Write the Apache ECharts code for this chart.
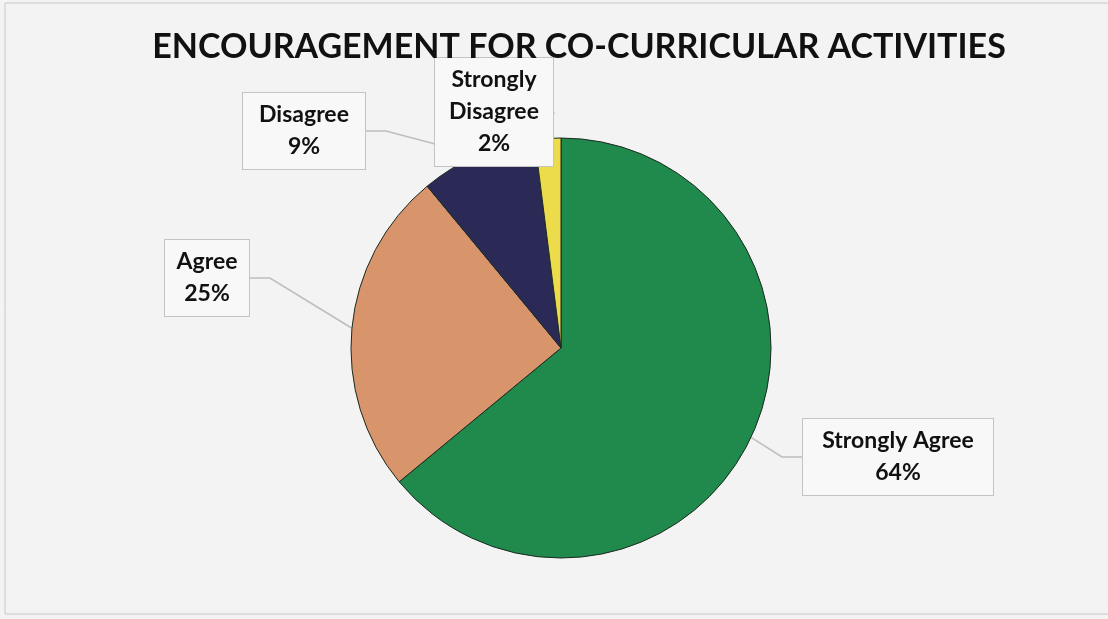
<!DOCTYPE html>
<html>
<head>
<meta charset="utf-8">
<script src="https://cdn.jsdelivr.net/npm/echarts@6/dist/echarts.min.js"></script>
<style>
html,body{margin:0;padding:0;background:#f3f3f3;}
#chart{width:1108px;height:619px;}
</style>
</head>
<body>
<div id="chart"></div>
<script>
const titleText = 'ENCOURAGEMENT FOR CO-CURRICULAR ACTIVITIES';
const categories = ['Strongly Agree', 'Agree', 'Disagree', 'Strongly Disagree'];
const values = [64, 25, 9, 2];
const colors = ['#1f8a4c', '#d8946a', '#2b2a57', '#ecdc4c'];
const labelNames = ['Strongly Agree', 'Agree', 'Disagree', 'Strongly\nDisagree'];
// label box anchor positions (centres) and widths
const labelPos = [[898, 458], [207, 279], [304, 132], [494, 113]];
const labelWidths = [178, 72, 110, 106];

const chart = echarts.init(document.getElementById('chart'));
chart.setOption({
  backgroundColor: '#f3f3f3',
  animation: false,
  title: {
    text: titleText,
    left: 574, top: 25, textAlign: 'center',
    textStyle: {fontFamily: 'Lato', fontWeight: 'bold', fontSize: 34, color: '#111'}
  },
  graphic: [{
    type: 'rect', shape: {x: 5, y: 3, width: 1120, height: 611},
    style: {fill: 'none', stroke: '#c8c8c8', lineWidth: 1}, silent: true
  }],
  series: [{
    type: 'pie',
    center: [561, 348],
    radius: 210,
    startAngle: 90,
    clockwise: true,
    data: categories.map((c, i) => ({
      name: c, value: values[i],
      itemStyle: {color: colors[i]},
      label: {width: labelWidths[i]}
    })),
    itemStyle: {borderColor: '#1c2a22', borderWidth: 1},
    label: {
      show: true,
      formatter: p => labelNames[p.dataIndex] + '\n' + p.value + '%',
      fontFamily: 'Lato', fontWeight: 'bold', fontSize: 23, lineHeight: 32,
      color: '#111', align: 'center',
      backgroundColor: '#f8f8f8', borderColor: '#c4c4c4', borderWidth: 1,
      padding: [6, 6, 6, 6]
    },
    labelLine: {show: true, lineStyle: {color: '#bdbdbd', width: 1.5}, length: 20, length2: 20},
    labelLayout: function (params) {
      const i = params.dataIndex;
      const r = params.labelRect;
      return {
        x: labelPos[i][0],
        y: labelPos[i][1] - r.height / 2,
        align: 'center', verticalAlign: 'top'
      };
    }
  }]
});
</script>
</body>
</html>
